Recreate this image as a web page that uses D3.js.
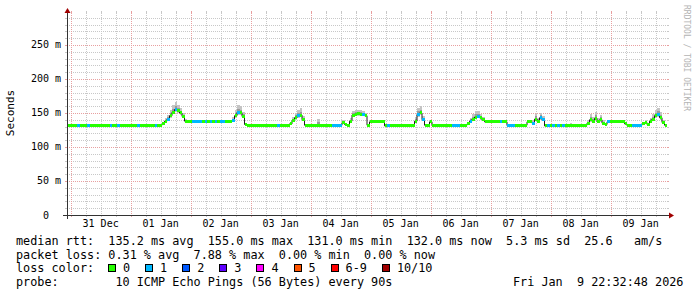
<!DOCTYPE html>
<html>
<head>
<meta charset="utf-8">
<script src="https://cdn.jsdelivr.net/npm/d3@7"></script>
<style>
  html, body { margin: 0; padding: 0; background: #fff; }
  #chart-container { width: 697px; height: 297px; }
  text { font-family: "DejaVu Sans Mono", monospace; white-space: pre; }
</style>
</head>
<body>
<div id="chart-container"></div>
<script>
// ========== Data ==========
const startTime = new Date(2025, 11, 30, 22, 32, 48);
const endTime = new Date(2026, 0, 9, 22, 32, 48);
const yMax = 297;

// median rtt per hour (ms), one row = 24 hours
const medianRtt = [
    132,131,132,132,131,132,132,131,132,132,131,132,132,132,131,132,132,131,132,132,131,132,132,131,
    132,131,132,132,131,132,132,131,132,132,132,131,132,132,134,138,141,146,151,155,153,150,145,138,
    137,137,137,138,137,137,137,137,137,137,137,137,137,137,137,137,137,137,139,146,151,150,145,133,
    132,132,132,132,132,132,132,132,132,132,132,132,132,132,132,132,132,134,139,143,146,147,140,132,
    132,132,132,132,132,132,132,132,132,132,132,132,132,132,136,133,132,138,147,148,149,148,148,146,
    132,137,137,137,137,137,137,131,131,131,131,131,131,131,131,131,131,131,131,138,148,150,140,132,
    131,137,132,132,132,132,132,132,132,132,132,132,132,132,132,132,134,138,141,144,145,143,140,137,
    137,137,137,137,137,137,137,137,132,132,132,132,132,132,132,132,137,137,135,141,138,143,140,131,
    131,132,131,132,131,132,132,131,132,131,132,132,131,132,131,132,135,140,138,142,137,140,135,133,
    137,138,138,138,138,138,138,134,132,132,132,132,132,132,134,136,133,138,141,146,148,143,136,132
];

// lost pings (of 10) per hour
const lossCount = [
    0,0,0,0,1,0,0,0,1,0,0,0,0,0,0,0,0,1,0,0,1,0,0,0,
    0,0,0,0,1,0,0,0,0,0,0,1,0,0,0,0,1,0,0,1,0,0,0,0,
    0,0,1,1,1,1,0,1,0,1,0,1,0,1,1,0,0,0,1,0,1,0,0,0,
    0,0,0,0,0,0,0,0,0,0,0,0,1,0,0,0,0,0,0,0,1,0,0,0,
    0,0,0,0,0,0,0,0,0,0,1,1,1,1,0,0,0,0,0,0,0,0,1,0,
    0,0,0,0,0,0,0,0,1,0,0,0,0,0,0,0,0,0,0,0,1,0,1,0,
    0,0,0,0,0,0,0,0,0,0,1,1,1,0,0,0,0,1,0,0,1,0,0,0,
    0,0,0,0,0,1,0,0,1,1,1,0,0,0,0,0,0,0,1,0,0,1,1,0,
    1,0,1,0,1,0,1,0,0,0,0,0,0,0,0,0,0,0,0,0,0,0,0,0,
    1,0,0,0,0,0,0,0,0,0,1,1,1,1,0,0,0,0,0,0,1,0,0,0
];

// smoke spread above / below the median (ms)
const smokeUp = [
    1,1,2,1,1,1,1,1,2,1,1,1,1,1,1,1,2,1,1,1,1,1,1,1,
    1,1,1,1,1,2,1,1,1,1,1,1,1,1,3,4,6,8,10,11,9,7,5,3,
    1,1,1,1,1,1,1,1,1,1,1,1,1,1,2,1,2,2,5,8,11,10,7,3,
    1,1,1,1,1,1,1,1,1,1,1,1,1,1,1,1,1,3,5,7,9,10,6,2,
    1,1,1,1,9,1,1,1,1,1,1,1,1,2,3,2,2,4,6,7,6,6,5,4,
    1,2,1,1,1,1,2,1,1,1,1,1,1,1,1,1,1,1,1,6,10,10,5,2,
    1,2,1,1,1,1,1,1,1,1,1,1,1,1,1,1,3,5,7,9,8,6,4,2,
    1,1,1,1,1,1,1,1,1,1,1,1,1,1,1,1,3,3,4,8,5,7,5,1,
    1,1,1,1,1,1,1,1,1,5,1,1,1,1,1,1,4,8,6,9,6,7,4,3,
    2,2,1,1,1,1,1,2,1,1,1,1,1,1,2,3,2,5,7,9,10,8,4,1
];
const smokeDown = [
    1,1,1,1,1,1,1,1,1,1,1,1,1,1,1,1,1,1,1,1,1,1,1,1,
    1,1,1,1,1,1,1,1,1,1,1,1,1,1,1,2,2,3,3,4,3,3,2,1,
    1,1,1,1,1,1,1,1,1,1,1,1,1,1,1,1,1,1,2,3,4,3,3,1,
    1,1,1,1,1,1,1,1,1,1,1,1,1,1,1,1,1,2,2,3,3,3,2,1,
    1,1,1,1,1,1,1,1,1,1,1,1,1,1,1,1,1,2,2,3,3,3,2,2,
    1,1,1,1,1,1,1,1,1,1,1,1,1,1,1,1,1,1,1,3,4,3,2,1,
    1,1,1,1,1,1,1,1,1,1,1,1,1,1,1,1,1,2,2,3,3,3,2,1,
    1,1,1,1,1,1,1,1,1,1,1,1,1,1,1,1,1,1,2,3,2,3,2,1,
    1,1,1,1,1,1,1,1,1,1,1,1,1,1,1,1,2,3,2,3,2,3,2,1,
    1,1,1,1,1,1,1,1,1,1,1,1,1,1,1,1,1,2,2,3,4,3,2,1
];

const yTicksMajor = [0, 50, 100, 150, 200, 250];
const lossLabels = ["0", "1", "2", "3", "4", "5", "6-9", "10/10"];
const lossColors = ["#26ff00", "#00b8ff", "#0059ff", "#5e00ff", "#ff00ff", "#ff5500", "#ff0000", "#a10000"];

const legendRows = [
    "median rtt:  135.2 ms avg  155.0 ms max  131.0 ms min  132.0 ms now  5.3 ms sd  25.6   am/s",
    "packet loss: 0.31 % avg  7.88 % max  0.00 % min  0.00 % now",
    "loss color:",
    "probe:        10 ICMP Echo Pings (56 Bytes) every 90s"
];
const probeDate = "Fri Jan  9 22:32:48 2026";
const watermark = "RRDTOOL / TOBI OETIKER";

// ========== Chart ==========
function renderChart() {
    const width = 697, height = 297;
    const plot = { left: 67, right: 667, top: 13, bottom: 215 };

    const svg = d3.select("#chart-container")
        .append("svg")
        .attr("width", width)
        .attr("height", height);

    svg.append("rect").attr("width", width).attr("height", height).attr("fill", "#fff");

    const x = d3.scaleTime().domain([startTime, endTime]).range([plot.left, plot.right]);
    const y = d3.scaleLinear().domain([0, yMax]).range([plot.bottom, plot.top]);
    const px = v => Math.round(v) + 0.5;

    const hours = medianRtt.map((d, i) => d3.timeHour.offset(startTime, i));
    const hourEnd = i => d3.timeHour.offset(hours[i], 1);

    // Grid
    const grid = svg.append("g").attr("shape-rendering", "crispEdges");
    const minorY = d3.range(10, yMax, 10).filter(v => v % 50 !== 0);
    const majorY = yTicksMajor.filter(v => v > 0);
    const days = d3.timeDay.range(startTime, endTime);
    const minorX = d3.timeHour.every(6).range(startTime, endTime).filter(t => t.getHours() !== 0);

    function hLines(vals, color) {
        grid.selectAll(null).data(vals).enter().append("line")
            .attr("x1", plot.left).attr("x2", plot.right)
            .attr("y1", d => px(y(d))).attr("y2", d => px(y(d)))
            .attr("stroke", color).attr("stroke-dasharray", "1,1");
        grid.selectAll(null).data(vals).enter().append("line")
            .attr("x1", plot.left - 2).attr("x2", plot.left)
            .attr("y1", d => px(y(d))).attr("y2", d => px(y(d)))
            .attr("stroke", color);
        grid.selectAll(null).data(vals).enter().append("line")
            .attr("x1", plot.right).attr("x2", plot.right + 2)
            .attr("y1", d => px(y(d))).attr("y2", d => px(y(d)))
            .attr("stroke", color);
    }
    function vLines(vals, color) {
        grid.selectAll(null).data(vals).enter().append("line")
            .attr("x1", d => px(x(d))).attr("x2", d => px(x(d)))
            .attr("y1", plot.top).attr("y2", plot.bottom)
            .attr("stroke", color).attr("stroke-dasharray", "1,1");
        grid.selectAll(null).data(vals).enter().append("line")
            .attr("x1", d => px(x(d))).attr("x2", d => px(x(d)))
            .attr("y1", plot.bottom).attr("y2", plot.bottom + 2)
            .attr("stroke", color);
        grid.selectAll(null).data(vals).enter().append("line")
            .attr("x1", d => px(x(d))).attr("x2", d => px(x(d)))
            .attr("y1", plot.top - 2).attr("y2", plot.top)
            .attr("stroke", color);
    }
    hLines(minorY, "#c8c8c8");
    vLines(minorX, "#c8c8c8");
    hLines(majorY, "#e8a0a0");
    vLines(days, "#e8a0a0");

    // Smoke
    const data = svg.append("g");
    data.selectAll(".smoke-outer")
        .data(medianRtt)
        .enter().append("rect")
        .attr("x", (d, i) => x(hours[i]))
        .attr("width", (d, i) => x(hourEnd(i)) - x(hours[i]))
        .attr("y", (d, i) => y(d + smokeUp[i]))
        .attr("height", (d, i) => y(d - smokeDown[i]) - y(d + smokeUp[i]))
        .attr("fill", "#c4c4c4")
        .attr("shape-rendering", "crispEdges");

    data.selectAll(".smoke-inner")
        .data(medianRtt)
        .enter().append("rect")
        .attr("x", (d, i) => x(hours[i]))
        .attr("width", (d, i) => x(hourEnd(i)) - x(hours[i]))
        .attr("y", (d, i) => y(d + smokeUp[i] / 2))
        .attr("height", (d, i) => y(d - smokeDown[i] / 2) - y(d + smokeUp[i] / 2))
        .attr("fill", "#9a9a9a")
        .attr("shape-rendering", "crispEdges");

    // Median step line
    const stepPts = medianRtt.map((d, i) => [hours[i], d])
        .concat([[endTime, medianRtt[medianRtt.length - 1]]]);
    data.append("path")
        .attr("d", d3.line().x(p => x(p[0])).y(p => y(p[1])).curve(d3.curveStepAfter)(stepPts))
        .attr("fill", "none")
        .attr("stroke", "#202020")
        .attr("stroke-width", 1);

    // Median coloured by loss
    const lossIndex = c => c <= 5 ? c : (c < 10 ? 6 : 7);
    data.selectAll(".median")
        .data(medianRtt)
        .enter().append("rect")
        .attr("x", (d, i) => x(hours[i]))
        .attr("width", (d, i) => x(hourEnd(i)) - x(hours[i]))
        .attr("y", d => y(d) - 1.5)
        .attr("height", 3)
        .attr("fill", (d, i) => lossColors[lossIndex(lossCount[i])])
        .attr("shape-rendering", "crispEdges");

    // Axes
    const axes = svg.append("g").attr("shape-rendering", "crispEdges");
    axes.append("line")
        .attr("x1", plot.left - 4).attr("x2", plot.right + 2)
        .attr("y1", px(plot.bottom)).attr("y2", px(plot.bottom))
        .attr("stroke", "#333");
    axes.append("line")
        .attr("x1", px(plot.left)).attr("x2", px(plot.left))
        .attr("y1", plot.bottom + 4).attr("y2", plot.top)
        .attr("stroke", "#333");
    svg.append("path")
        .attr("d", `M${plot.right + 2},${plot.bottom - 2.5}L${plot.right + 7},${plot.bottom + 0.5}L${plot.right + 2},${plot.bottom + 3.5}Z`)
        .attr("fill", "#a00000");
    svg.append("path")
        .attr("d", `M${plot.left - 2.5},${plot.top}L${plot.left + 0.5},${plot.top - 5}L${plot.left + 3.5},${plot.top}Z`)
        .attr("fill", "#a00000");

    // Y labels
    svg.selectAll(".ylabel")
        .data(yTicksMajor)
        .enter().append("text")
        .attr("x", plot.left - 6)
        .attr("y", d => y(d) + 3.5)
        .attr("text-anchor", "end")
        .attr("font-size", "10px")
        .attr("fill", "#000")
        .text(d => d === 0 ? "0  " : `${d} m`);

    // X labels (centred at noon)
    svg.selectAll(".xlabel")
        .data(days)
        .enter().append("text")
        .attr("x", d => x(d3.timeHour.offset(d, 12)))
        .attr("y", plot.bottom + 12)
        .attr("text-anchor", "middle")
        .attr("font-size", "10px")
        .attr("fill", "#000")
        .text(d => d3.timeFormat("%d %b")(d));

    svg.append("text")
        .attr("transform", "translate(14,113) rotate(-90)")
        .attr("text-anchor", "middle")
        .attr("font-size", "11px")
        .attr("fill", "#000")
        .text("Seconds");

    svg.append("text")
        .attr("transform", "translate(684,5) rotate(90)")
        .attr("font-size", "8px")
        .attr("fill", "#b4b4b4")
        .text(watermark);

    // Legend
    const rowY = [245, 258.7, 272.4, 286.1];
    svg.selectAll(".legend")
        .data(legendRows)
        .enter().append("text")
        .attr("x", 16)
        .attr("y", (d, i) => rowY[i])
        .attr("font-size", "11.8px")
        .attr("fill", "#000")
        .text(d => d);

    svg.append("text")
        .attr("x", 513)
        .attr("y", rowY[3])
        .attr("font-size", "11.8px")
        .attr("fill", "#000")
        .text(probeDate);

    let sx = 108;
    lossLabels.forEach((lbl, i) => {
        svg.append("rect")
            .attr("x", sx + 0.5).attr("y", rowY[2] - 7.5)
            .attr("width", 7).attr("height", 7)
            .attr("fill", lossColors[i])
            .attr("stroke", "#000")
            .attr("shape-rendering", "crispEdges");
        svg.append("text")
            .attr("x", sx + 15)
            .attr("y", rowY[2])
            .attr("font-size", "11.8px")
            .attr("fill", "#000")
            .text(lbl);
        sx += 15 + lbl.length * 7.1 + 15;
    });
}

document.addEventListener("DOMContentLoaded", renderChart);
</script>
</body>
</html>
